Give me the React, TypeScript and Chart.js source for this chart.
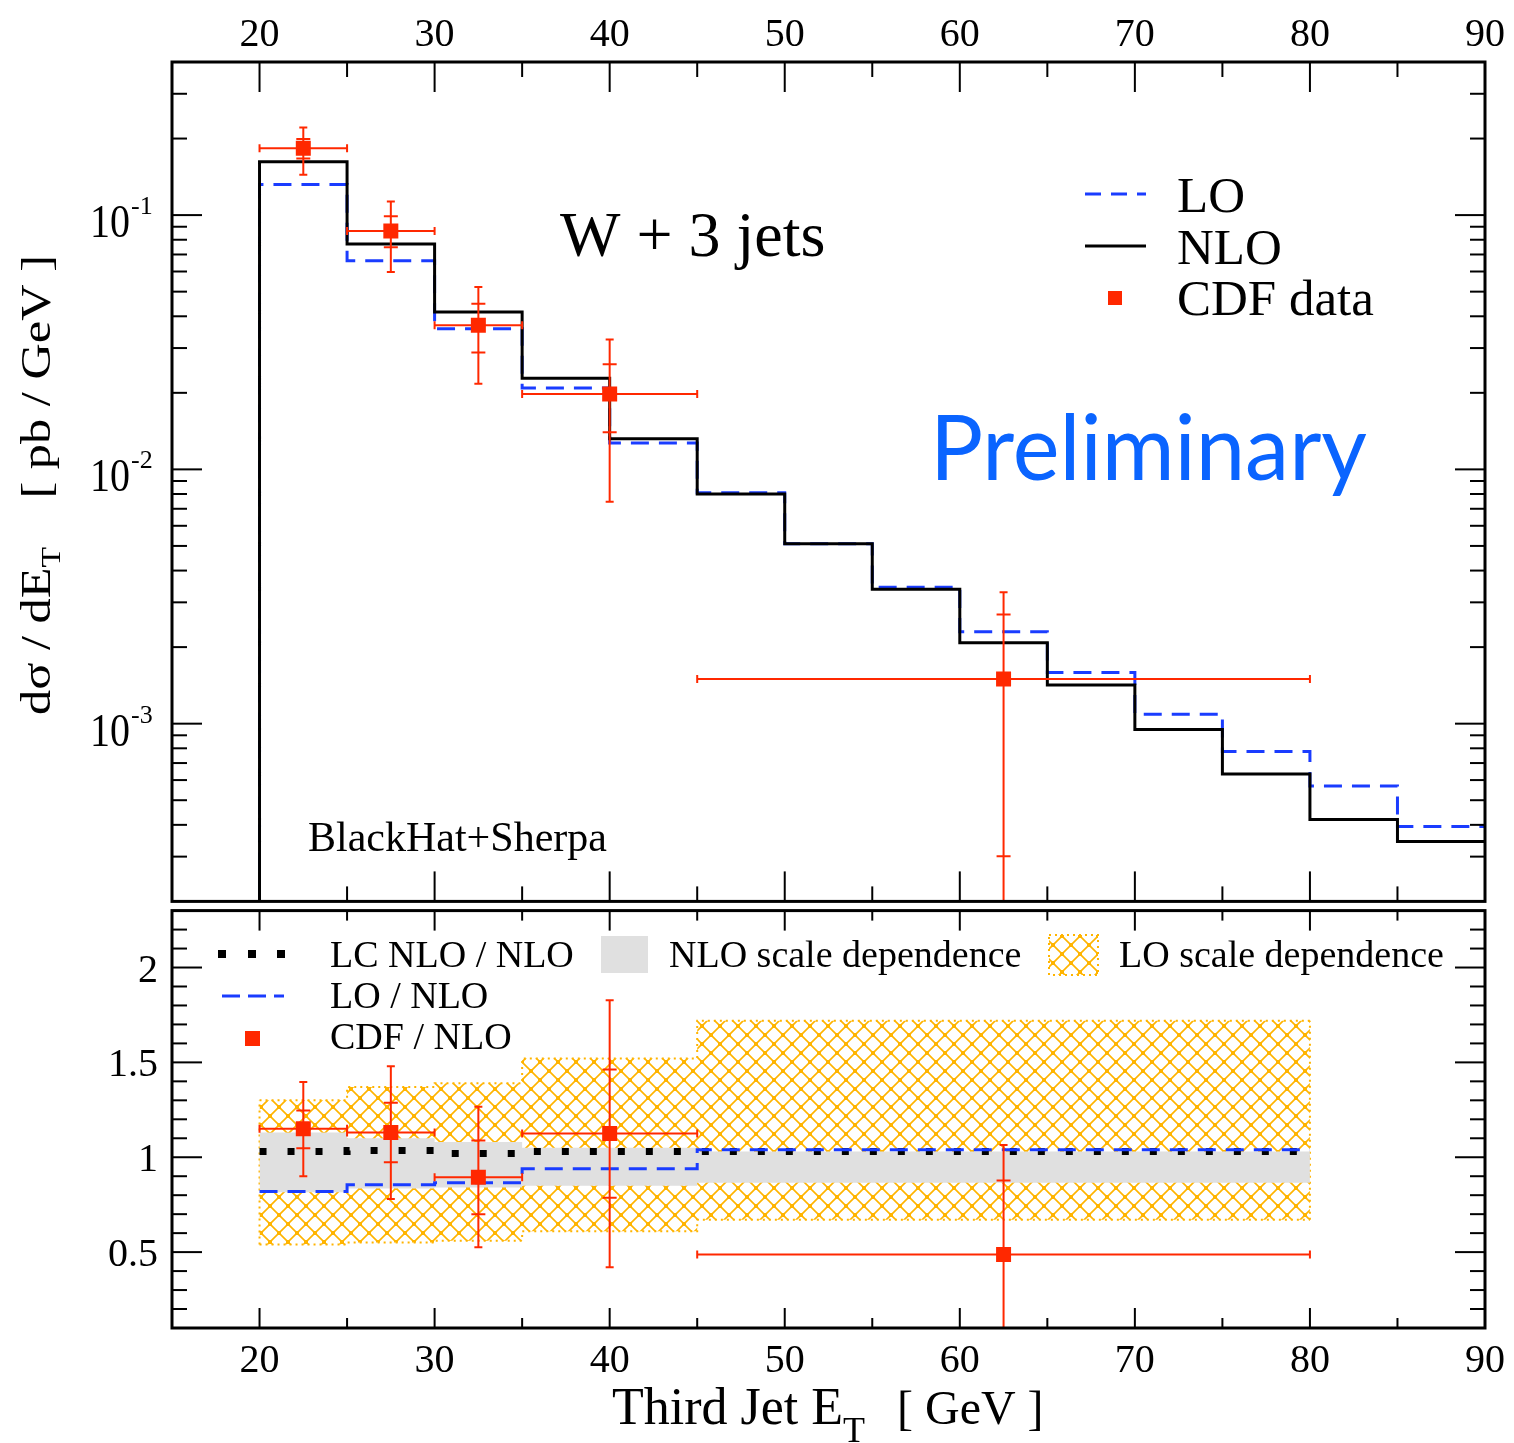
import { useEffect, useRef } from 'react'
import { Chart, registerables } from 'chart.js'

Chart.register(...registerables)

// ---- top panel: dσ/dET histograms (bin edges 20..90 GeV) ----
const binEdges = [20, 25, 30, 35, 40, 45, 50, 55, 60, 65, 70, 75, 80, 85, 90]
const nloValues = [0.162, 0.077, 0.0416, 0.0228, 0.0132, 0.008, 0.0051, 0.00338, 0.00208, 0.00142, 0.000948, 0.000634, 0.00042, 0.000344]
const loValues = [0.132, 0.0662, 0.0357, 0.0209, 0.0127, 0.0081, 0.0051, 0.00344, 0.0023, 0.00159, 0.00109, 0.000778, 0.000569, 0.000394]
const histFloor = 1e-6

// ---- CDF data points ----
const cdfX = [22.5, 27.5, 32.5, 40, 62.5]
const cdfXLow = [20, 25, 30, 35, 45]
const cdfXHigh = [25, 30, 35, 45, 80]
const cdfValues = [0.183, 0.0865, 0.0369, 0.0198, 0.0015]
const cdfStatLow = [0.167, 0.0747, 0.0288, 0.014, 0.000301]
const cdfStatHigh = [0.199, 0.0989, 0.0448, 0.0259, 0.00269]
const cdfTotalLow = [0.144, 0.0597, 0.0217, 0.00746, 0.00005]
const cdfTotalHigh = [0.221, 0.113, 0.0521, 0.0324, 0.00329]

// ---- bottom panel: ratios to NLO ----
const ratioEdges = [20, 25, 30, 35, 45, 80]
const loBandHigh = [1.3, 1.37, 1.39, 1.52, 1.72]
const loBandLow = [0.54, 0.55, 0.56, 0.61, 0.67]
const nloBandHigh = [1.13, 1.1, 1.08, 1.05, 1.03]
const nloBandLow = [0.815, 0.835, 0.84, 0.85, 0.865]
const lcRatio = [1.03, 1.035, 1.02, 1.03, 1.03]
const loRatio = [0.82, 0.855, 0.865, 0.94, 1.04]
const cdfRatio = [1.15, 1.13, 0.895, 1.125, 0.487]
const cdfRatioStatLow = [1.047, 0.974, 0.7, 0.787, 0.098]
const cdfRatioStatHigh = [1.246, 1.287, 1.088, 1.462, 0.877]
const cdfRatioTotalLow = [0.9, 0.78, 0.525, 0.42, 0.01]
const cdfRatioTotalHigh = [1.396, 1.48, 1.266, 1.828, 1.065]

// ---- axes ----
const xMajorTicks = [20, 30, 40, 50, 60, 70, 80, 90]
const xMinorTicks = [25, 35, 45, 55, 65, 75, 85]
const xTickLabels = ['20', '30', '40', '50', '60', '70', '80', '90']
const logTickValues = [0.1, 0.01, 0.001]
const logTickExponents = ['-1', '-2', '-3']
const ratioTickValues = [0.5, 1, 1.5, 2]
const ratioTickLabels = ['0.5', '1', '1.5', '2']

const RED = '#ff2800'
const BLUE = '#1a3cff'
const ORANGE = '#ffb400'
const GRAY = '#e0e0e0'
const SERIF = '"Liberation Serif", "DejaVu Serif", serif'
const BOTTOM_TOP = 900 // page offset of the lower canvas

// histogram: horizontal run over each bin, then vertical step at the edge
function stepPoints(edges: number[], values: number[]) {
  const pts = values.map((v, i) => ({ x: edges[i], y: v }))
  pts.push({ x: edges[values.length], y: values[values.length - 1] })
  return pts
}

function errorBars(xs: number[], xLow: number[], xHigh: number[], ys: number[],
  statLow: number[], statHigh: number[], totLow: number[], totHigh: number[]) {
  const base = {
    borderColor: RED, borderWidth: 2, pointStyle: 'line', pointBorderColor: RED,
    pointBorderWidth: 2, pointBackgroundColor: RED, fill: false, order: 1, clip: 0,
  }
  const sets: any[] = []
  xs.forEach((x, i) => {
    sets.push({ ...base, data: [{ x, y: totLow[i] }, { x, y: totHigh[i] }], pointRadius: 4 })
    sets.push({ ...base, data: [{ x: xLow[i], y: ys[i] }, { x: xHigh[i], y: ys[i] }], pointRadius: 4, pointRotation: 90 })
    sets.push({ ...base, data: [{ x, y: statLow[i] }, { x, y: statHigh[i] }], showLine: false, pointRadius: 7 })
  })
  sets.push({
    data: xs.map((x, i) => ({ x, y: ys[i] })), showLine: false, pointStyle: 'rect',
    pointRadius: 10.6, pointBackgroundColor: RED, pointBorderWidth: 0, order: 0, clip: 0,
  })
  return sets
}

// cross-hatch tile for the LO scale band
function makeHatch() {
  const s = 18
  const tile = document.createElement('canvas')
  tile.width = s
  tile.height = s
  const t = tile.getContext('2d')!
  t.strokeStyle = ORANGE
  t.lineWidth = 1.6
  t.beginPath()
  t.moveTo(0, 0); t.lineTo(s, s)
  t.moveTo(s, 0); t.lineTo(0, s)
  t.stroke()
  t.fillStyle = ORANGE
  t.fillRect(s / 2 - 2, s / 2 - 2, 4, 4)
  t.fillRect(-2, -2, 4, 4)
  t.fillRect(s - 2, -2, 4, 4)
  t.fillRect(-2, s - 2, 4, 4)
  t.fillRect(s - 2, s - 2, 4, 4)
  return t.createPattern(tile, 'repeat')!
}

function seg(ctx: CanvasRenderingContext2D, x1: number, y1: number, x2: number, y2: number) {
  ctx.beginPath()
  ctx.moveTo(x1, y1)
  ctx.lineTo(x2, y2)
  ctx.stroke()
}

function text(ctx: CanvasRenderingContext2D, str: string, x: number, y: number, size: number,
  opts: { align?: CanvasTextAlign; color?: string; family?: string; sx?: number; sy?: number; rotate?: number } = {}) {
  const { align = 'left', color = '#000', family = SERIF, sx = 1, sy = 1, rotate = 0 } = opts
  ctx.save()
  ctx.translate(x, y)
  if (rotate) ctx.rotate(rotate)
  ctx.scale(sx, sy)
  ctx.font = `${size}px ${family}`
  ctx.fillStyle = color
  ctx.textAlign = align
  ctx.textBaseline = 'alphabetic'
  ctx.fillText(str, 0, 0)
  ctx.restore()
}

function textWidth(ctx: CanvasRenderingContext2D, str: string, size: number, family = SERIF) {
  ctx.save()
  ctx.font = `${size}px ${family}`
  const w = ctx.measureText(str).width
  ctx.restore()
  return w
}

function baseOptions(yScale: any, padding: any): any {
  return {
    animation: false,
    responsive: false,
    events: [],
    layout: { padding },
    plugins: { legend: { display: false }, tooltip: { enabled: false }, colors: { enabled: false } },
    scales: {
      x: { type: 'linear', min: 15, max: 90, bounds: 'data', display: false },
      y: yScale,
    },
  }
}

export default function App() {
  const topRef = useRef<HTMLCanvasElement>(null)
  const bottomRef = useRef<HTMLCanvasElement>(null)

  useEffect(() => {
    if (!topRef.current || !bottomRef.current) return
    const hatch = makeHatch()

    // Top panel frame, ticks, labels, legend
    const topDecor = {
      id: 'topDecor',
      afterDraw(chart: any) {
        const { ctx, chartArea: a } = chart
        const x = chart.scales.x
        const y = chart.scales.y
        ctx.save()
        ctx.strokeStyle = '#000'
        ctx.lineWidth = 2
        xMajorTicks.forEach(v => {
          const p = x.getPixelForValue(v)
          seg(ctx, p, a.top, p, a.top + 30)
          seg(ctx, p, a.bottom, p, a.bottom - 30)
        })
        xMinorTicks.forEach(v => {
          const p = x.getPixelForValue(v)
          seg(ctx, p, a.top, p, a.top + 15)
          seg(ctx, p, a.bottom, p, a.bottom - 15)
        })
        logTickValues.forEach(v => {
          const p = y.getPixelForValue(v)
          seg(ctx, a.left, p, a.left + 30, p)
          seg(ctx, a.right, p, a.right - 30, p)
        })
        for (let e = -4; e <= -1; e++) {
          for (let k = 2; k <= 9; k++) {
            const v = k * Math.pow(10, e)
            if (v <= y.min || v >= y.max) continue
            const p = y.getPixelForValue(v)
            seg(ctx, a.left, p, a.left + 15, p)
            seg(ctx, a.right, p, a.right - 15, p)
          }
        }
        ctx.lineWidth = 3
        ctx.strokeRect(a.left, a.top, a.right - a.left, a.bottom - a.top)

        // tick labels
        xMajorTicks.forEach((v, i) => text(ctx, xTickLabels[i], x.getPixelForValue(v), 46, 40, { align: 'center' }))
        logTickValues.forEach((v, i) => {
          const p = y.getPixelForValue(v)
          text(ctx, '10', 130, p + 22, 40, { align: 'right', sy: 1.15 })
          text(ctx, logTickExponents[i], 131, p - 1, 26)
        })

        // y title (rotated)
        const up = -Math.PI / 2
        text(ctx, 'dσ / dE', 50, 715, 42, { rotate: up, sx: 1.2 })
        const w1 = textWidth(ctx, 'dσ / dE', 42) * 1.2
        text(ctx, 'T', 60, 715 - w1, 28, { rotate: up, sx: 1.2 })
        text(ctx, '[ pb / GeV ]', 50, 255, 42, { rotate: up, sx: 1.2, align: 'right' })

        // annotations
        text(ctx, 'W + 3 jets', 560, 256, 64)
        text(ctx, 'BlackHat+Sherpa', 308, 851, 42)
        const pw = textWidth(ctx, 'Preliminary', 92, 'Lato')
        text(ctx, 'Preliminary', 930, 480, 92, { family: 'Lato', color: '#0a64ff', sx: 437 / pw })

        // legend
        ctx.lineWidth = 3
        ctx.strokeStyle = BLUE
        ctx.setLineDash([16, 10])
        seg(ctx, 1085, 194, 1146, 194)
        ctx.setLineDash([])
        ctx.strokeStyle = '#000'
        seg(ctx, 1085, 246, 1146, 246)
        ctx.fillStyle = RED
        ctx.fillRect(1108, 291, 14, 14)
        text(ctx, 'LO', 1177, 212, 51)
        text(ctx, 'NLO', 1177, 264, 51)
        text(ctx, 'CDF data', 1177, 315, 51)
        ctx.restore()
      },
    }

    // Bottom panel frame, ticks, labels, legend
    const bottomDecor = {
      id: 'bottomDecor',
      afterDraw(chart: any) {
        const { ctx, chartArea: a } = chart
        const x = chart.scales.x
        const y = chart.scales.y
        const O = BOTTOM_TOP
        ctx.save()
        ctx.strokeStyle = '#000'
        ctx.lineWidth = 2
        xMajorTicks.forEach(v => {
          const p = x.getPixelForValue(v)
          seg(ctx, p, a.top, p, a.top + 20)
          seg(ctx, p, a.bottom, p, a.bottom - 20)
        })
        xMinorTicks.forEach(v => {
          const p = x.getPixelForValue(v)
          seg(ctx, p, a.top, p, a.top + 10)
          seg(ctx, p, a.bottom, p, a.bottom - 10)
        })
        for (let k = 2; k <= 22; k++) {
          const p = y.getPixelForValue(k / 10)
          const len = k % 5 === 0 ? 30 : 15
          seg(ctx, a.left, p, a.left + len, p)
          seg(ctx, a.right, p, a.right - len, p)
        }
        ctx.lineWidth = 3
        ctx.strokeRect(a.left, a.top, a.right - a.left, a.bottom - a.top)

        ratioTickValues.forEach((v, i) => text(ctx, ratioTickLabels[i], 158, y.getPixelForValue(v) + 14, 40, { align: 'right' }))
        xMajorTicks.forEach((v, i) => text(ctx, xTickLabels[i], x.getPixelForValue(v), 1372 - O, 40, { align: 'center' }))

        // x title
        text(ctx, 'Third Jet E', 612, 1424 - O, 52)
        const tw = textWidth(ctx, 'Third Jet E', 52)
        text(ctx, 'T', 612 + tw, 1442 - O, 36)
        text(ctx, '[ GeV ]', 897, 1424 - O, 48)

        // legend
        ctx.fillStyle = '#000'
        ;[222, 252, 281].forEach(px => ctx.fillRect(px - 4, 954 - O - 4, 8, 8))
        ctx.strokeStyle = BLUE
        ctx.lineWidth = 3
        ctx.setLineDash([18, 8])
        seg(ctx, 222, 996 - O, 284, 996 - O)
        ctx.setLineDash([])
        ctx.fillStyle = RED
        ctx.fillRect(245, 1031 - O, 15, 15)
        ctx.fillStyle = GRAY
        ctx.fillRect(601, 936 - O, 47, 37)
        ctx.fillStyle = hatch
        ctx.fillRect(1049, 935 - O, 49, 40)
        ctx.strokeStyle = ORANGE
        ctx.lineWidth = 2
        ctx.setLineDash([2, 4])
        ctx.strokeRect(1049, 935 - O, 49, 40)
        ctx.setLineDash([])
        text(ctx, 'LC NLO / NLO', 330, 967 - O, 38)
        text(ctx, 'LO / NLO', 330, 1008 - O, 38)
        text(ctx, 'CDF / NLO', 330, 1049 - O, 38)
        text(ctx, 'NLO scale dependence', 669, 967 - O, 38)
        text(ctx, 'LO scale dependence', 1119, 967 - O, 38)
        ctx.restore()
      },
    }

    const topChart = new Chart(topRef.current, {
      type: 'line',
      data: {
        datasets: [
          {
            data: [{ x: binEdges[0], y: histFloor }, ...stepPoints(binEdges, loValues)],
            stepped: 'before', borderColor: BLUE, borderWidth: 3, borderDash: [18, 10],
            pointRadius: 0, fill: false, order: 3, clip: 0,
          },
          {
            data: [{ x: binEdges[0], y: histFloor }, ...stepPoints(binEdges, nloValues)],
            stepped: 'before', borderColor: '#000', borderWidth: 3,
            pointRadius: 0, fill: false, order: 2, clip: 0,
          },
          ...errorBars(cdfX, cdfXLow, cdfXHigh, cdfValues, cdfStatLow, cdfStatHigh, cdfTotalLow, cdfTotalHigh),
        ] as any,
      },
      options: baseOptions(
        { type: 'logarithmic', min: 2e-4, max: 0.4, bounds: 'data', display: false },
        { left: 172, right: 29, top: 62, bottom: 2 },
      ),
      plugins: [topDecor],
    })

    const bandEdge = (x: number, lo: number, hi: number) => ({
      data: [{ x, y: lo }, { x, y: hi }], borderColor: ORANGE, borderWidth: 2,
      borderDash: [2, 4], pointRadius: 0, fill: false, order: 8, clip: 0,
    })
    const last = ratioEdges.length - 1

    const bottomChart = new Chart(bottomRef.current, {
      type: 'line',
      data: {
        datasets: [
          {
            data: stepPoints(ratioEdges, loBandHigh), stepped: 'before', fill: '+1',
            backgroundColor: hatch, borderColor: ORANGE, borderWidth: 2, borderDash: [2, 4],
            pointRadius: 0, order: 9, clip: 0,
          },
          {
            data: stepPoints(ratioEdges, loBandLow), stepped: 'before', fill: false,
            borderColor: ORANGE, borderWidth: 2, borderDash: [2, 4], pointRadius: 0, order: 8, clip: 0,
          },
          bandEdge(ratioEdges[0], loBandLow[0], loBandHigh[0]),
          bandEdge(ratioEdges[last], loBandLow[last - 1], loBandHigh[last - 1]),
          {
            data: stepPoints(ratioEdges, nloBandHigh), stepped: 'before', fill: '+1',
            backgroundColor: GRAY, borderColor: 'rgba(0,0,0,0)', borderWidth: 0,
            pointRadius: 0, order: 7, clip: 0,
          },
          {
            data: stepPoints(ratioEdges, nloBandLow), stepped: 'before', fill: false,
            borderColor: 'rgba(0,0,0,0)', borderWidth: 0, pointRadius: 0, order: 6, clip: 0,
          },
          {
            data: stepPoints(ratioEdges, lcRatio), stepped: 'before', fill: false,
            borderColor: '#000', borderWidth: 7, borderDash: [7, 21], borderCapStyle: 'butt',
            pointRadius: 0, order: 5, clip: 0,
          },
          {
            data: stepPoints(ratioEdges, loRatio), stepped: 'before', fill: false,
            borderColor: BLUE, borderWidth: 3, borderDash: [18, 10],
            pointRadius: 0, order: 4, clip: 0,
          },
          ...errorBars(cdfX, cdfXLow, cdfXHigh, cdfRatio, cdfRatioStatLow, cdfRatioStatHigh, cdfRatioTotalLow, cdfRatioTotalHigh),
        ] as any,
      },
      options: baseOptions(
        { type: 'linear', min: 0.1, max: 2.3, bounds: 'data', display: false },
        { left: 172, right: 29, top: 10, bottom: 115 },
      ),
      plugins: [bottomDecor],
    })

    return () => {
      topChart.destroy()
      bottomChart.destroy()
    }
  }, [])

  return (
    <div style={{ position: 'absolute', left: 0, top: 0, width: 1514, height: 1443, background: '#fff' }}>
      <canvas ref={topRef} width={1514} height={912} style={{ position: 'absolute', left: 0, top: 0 }} />
      <canvas ref={bottomRef} width={1514} height={543} style={{ position: 'absolute', left: 0, top: BOTTOM_TOP }} />
    </div>
  )
}
